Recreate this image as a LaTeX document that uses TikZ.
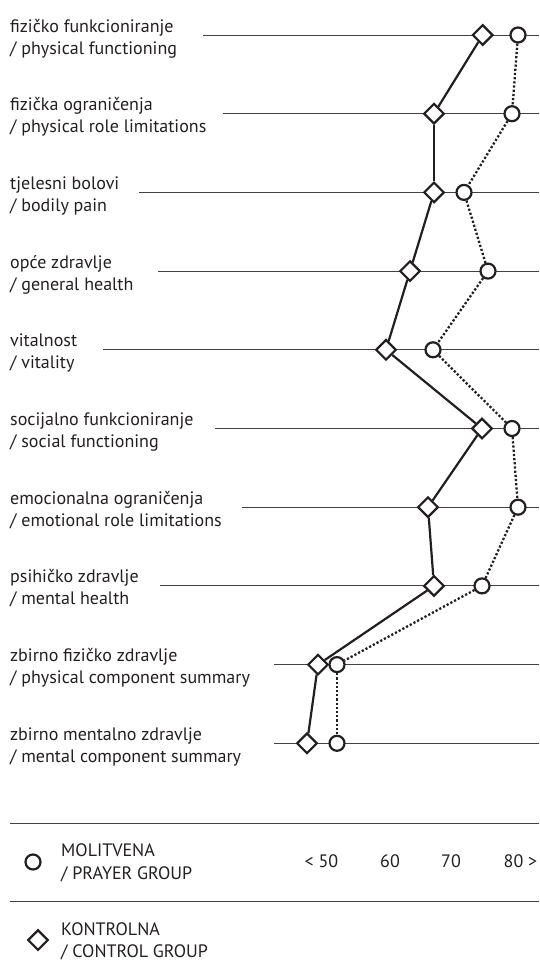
\documentclass[tikz,border=0pt]{standalone}
\usepackage{fontspec}
\setmainfont{PT Sans}
\usepackage{tikz}
\usetikzlibrary{calc,shapes.geometric,backgrounds}
\definecolor{ink}{HTML}{231F20}

\begin{document}
\begin{tikzpicture}[x=1pt,y=-1pt]

\tikzset{lbl/.style={font=\fontsize{18}{21}\selectfont,text=ink,inner sep=0pt,anchor=base west},
prayernode/.style={shape=circle,draw=ink,fill=white,line width=2.2pt,inner sep=0pt,minimum size=15pt},
controlnode/.style={shape=diamond,draw=ink,fill=white,line width=2.2pt,inner sep=0pt,minimum size=20.5pt},
rowline/.style={draw=ink!85,line width=1pt},
controlline/.style={draw=ink,line width=2.2pt},
prayerline/.style={draw=ink,line width=2.3pt,dash pattern=on 2.2pt off 2pt}}

\useasboundingbox (0,0) rectangle (539,972);

% rows: y / start of line / hr / en / control / prayer
\foreach \ry/\xs/\hrtext/\entext/\ctl/\pry [count=\i] in {
  35/203/fizičko funkcioniranje/physical functioning/482.7/518,
  113.7/223/fizička ograničenja/physical role limitations/434/512,
  192.4/139/tjelesni bolovi/bodily pain/434/464,
  271.1/158/opće zdravlje/general health/410/488,
  349.8/103/vitalnost/vitality/386/433,
  428.5/215/socijalno funkcioniranje/social functioning/482/512,
  507.2/242/emocionalna ograničenja/emotional role limitations/428/518,
  585.9/160/psihičko zdravlje/mental health/434/482,
  664.6/274/zbirno fizičko zdravlje/physical component summary/318/337,
  743.3/274/zbirno mentalno zdravlje/mental component summary/307/337}
{
  \node[lbl] (hr\i) at (10,\ry-3) {\hrtext};
  \node[lbl] (en\i) at (10,\ry+19) {/ \entext};
  \coordinate (ls\i) at (\xs,\ry);
  \coordinate (le\i) at (539,\ry);
  \node[controlnode] (k\i) at (\ctl,\ry) {};
  \node[prayernode] (m\i) at (\pry,\ry) {};
}

% horizontal lines behind the markers
\begin{scope}[on background layer]
\foreach \i in {1,...,10} \draw[rowline] (ls\i) -- (le\i);
\end{scope}

% Edges
\foreach \i in {1,...,9} {
  \pgfmathtruncatemacro{\j}{\i+1}
  \draw[controlline] (k\i) -- (k\j);
  \draw[prayerline] (m\i) -- (m\j);
}

% Legend
\coordinate (lega) at (10,823); \coordinate (legb) at (539,823);
\coordinate (legc) at (10,901); \coordinate (legd) at (539,901);
\draw[rowline] (lega) -- (legb);
\draw[rowline] (legc) -- (legd);

\node[prayernode] (legm) at (33,862) {};
\node[lbl] (legmhr) at (61,856) {MOLITVENA};
\node[lbl] (legmen) at (61,879) {/ PRAYER GROUP};
\node[controlnode] (legk) at (38,940) {};
\node[lbl] (legkhr) at (61,935) {KONTROLNA};
\node[lbl] (legken) at (61,957) {/ CONTROL GROUP};

% scale
\foreach \sx/\st [count=\i] in {321.5/{< 50},390/60,451/70,520.5/{80 >}}
  \node[lbl,anchor=base] (sc\i) at (\sx,867) {\st};

\end{tikzpicture}
\end{document}
